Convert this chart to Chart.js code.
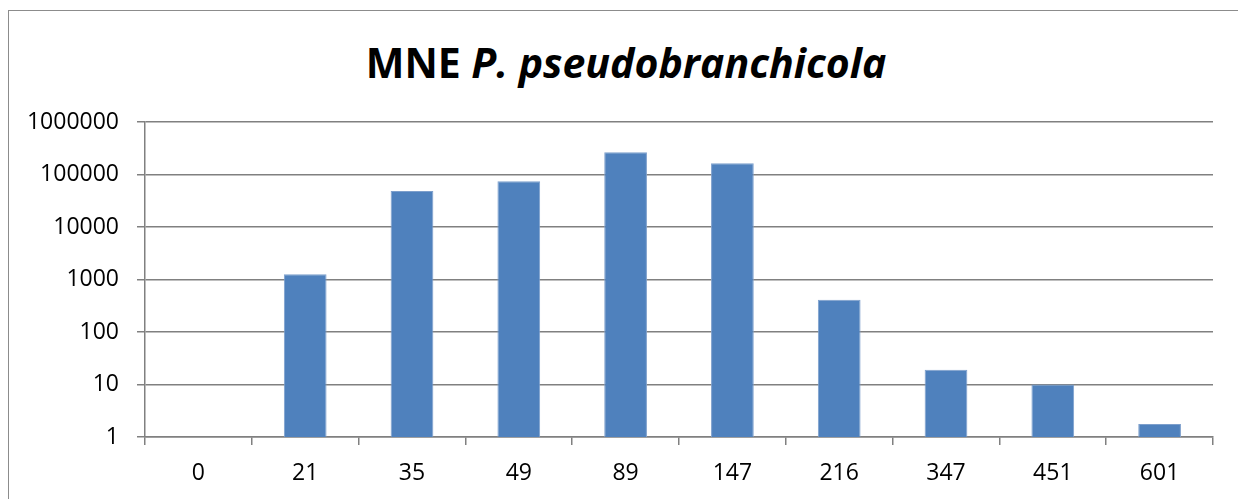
<!DOCTYPE html>
<html>
<head>
<meta charset="utf-8">
<script src="https://cdn.jsdelivr.net/npm/chart.js@4"></script>
<style>
  html, body { margin: 0; padding: 0; background: #fff; overflow: hidden; }
  #wrap { position: relative; width: 1238px; height: 499px; }
  #frame { position: absolute; left: 8px; top: 10px; width: 1300px; height: 600px; border: 1px solid #8c8c8c; box-sizing: border-box; }
  #title { position: absolute; left: 0; top: 34px; width: 1252px; text-align: center;
           font-family: "Open Sans", sans-serif; font-weight: bold; font-size: 41px; color: #000; line-height: 56px; }
  canvas { position: absolute; left: 0; top: 0; }
</style>
</head>
<body>
<div id="wrap">
  <div id="frame"></div>
  <div id="title">MNE <i>P. pseudobranchicola</i></div>
  <canvas id="chartContainer1" width="1238" height="499"></canvas>
</div>
<script>
// x categories and bar values (0 category has no bar)
const categories = ['0', '21', '35', '49', '89', '147', '216', '347', '451', '601'];
const counts = [null, 1260, 48500, 74000, 265000, 163000, 412, 19, 10, 1.77];
const yTicks = [1, 10, 100, 1000, 10000, 100000, 1000000];

const gridColor = '#808080';
const tickFont = { family: 'Open Sans', size: 23 };

const ctx = document.getElementById('chartContainer1').getContext('2d');
new Chart(ctx, {
    type: 'bar',
    data: {
        labels: categories,
        datasets: [{
            data: counts,
            backgroundColor: '#4F81BD',
            borderColor: '#7d9fcc',
            borderWidth: 1,
            categoryPercentage: 1,
            barPercentage: 0.4
        }]
    },
    options: {
        responsive: false,
        animation: false,
        layout: { padding: { left: 0, right: 25, top: 122, bottom: 0 } },
        plugins: {
            legend: { display: false },
            tooltip: { enabled: false },
            title: { display: false }
        },
        scales: {
            x: {
                grid: { drawOnChartArea: false, drawTicks: true, tickLength: 8, color: gridColor, offset: true, lineWidth: 1.5 },
                border: { color: gridColor, width: 1.5 },
                ticks: { color: '#000', font: tickFont, padding: 15, maxRotation: 0 },
                afterFit: function(scale) { scale.height = 62; }
            },
            y: {
                type: 'logarithmic',
                min: 1,
                max: 1000000,
                grid: { color: gridColor, tickLength: 8, lineWidth: 1.5 },
                border: { color: gridColor, width: 1.5 },
                ticks: {
                    color: '#000',
                    font: tickFont,
                    padding: 18,
                    callback: function(value) { return String(value); }
                },
                afterBuildTicks: function(scale) {
                    scale.ticks = yTicks.map(v => ({ value: v, major: true }));
                },
                afterFit: function(scale) { scale.width = 145; }
            }
        }
    }
});
</script>
</body>
</html>
